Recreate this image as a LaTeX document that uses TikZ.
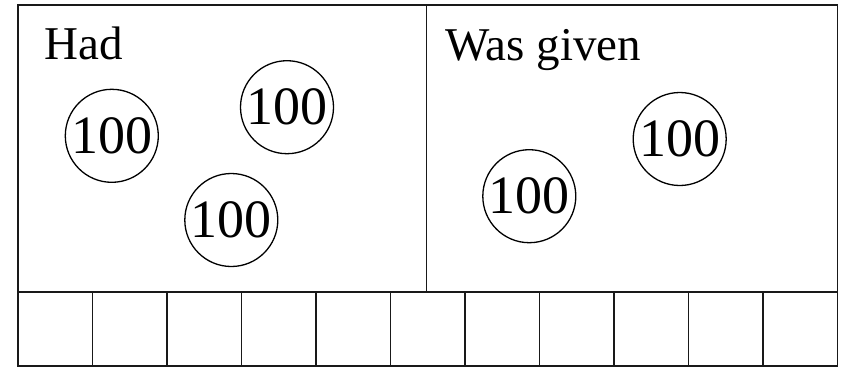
\documentclass[tikz,border=0pt]{standalone}
\usepackage{fontspec}
\setmainfont{Liberation Serif}
\begin{document}
\begin{tikzpicture}[x=1pt,y=-1pt,
  boxline/.style={line width=1.8pt,draw=black!90},
  coin/.style={circle,draw=black,line width=1.3pt,minimum size=93pt,inner sep=0pt,font=\fontsize{54}{60}\selectfont},
  lbl/.style={anchor=base west,inner sep=0pt,font=\fontsize{47}{54}\selectfont}]
\useasboundingbox (0,0) rectangle (848,368);
% outer frame and divider
\draw[boxline] (18,5) rectangle (837.5,366);
\draw[boxline] (426.5,5) -- (426.5,292);
\draw[boxline] (18,292) -- (837.5,292);
\foreach \k in {1,...,10}{
  \draw[boxline] ({18+74.5*\k},292) -- ({18+74.5*\k},366);
}
% labels
\node[lbl] (had) at (44,59.5) {Had};
\node[lbl] (given) at (445,60) {Was given};
% coins
\node[coin] (c1) at (111.8,135.8) {100};
\node[coin] (c2) at (287,107.2) {100};
\node[coin] (c3) at (231.3,220) {100};
\node[coin] (c4) at (529.3,196.2) {100};
\node[coin] (c5) at (679.7,139) {100};
\end{tikzpicture}
\end{document}
